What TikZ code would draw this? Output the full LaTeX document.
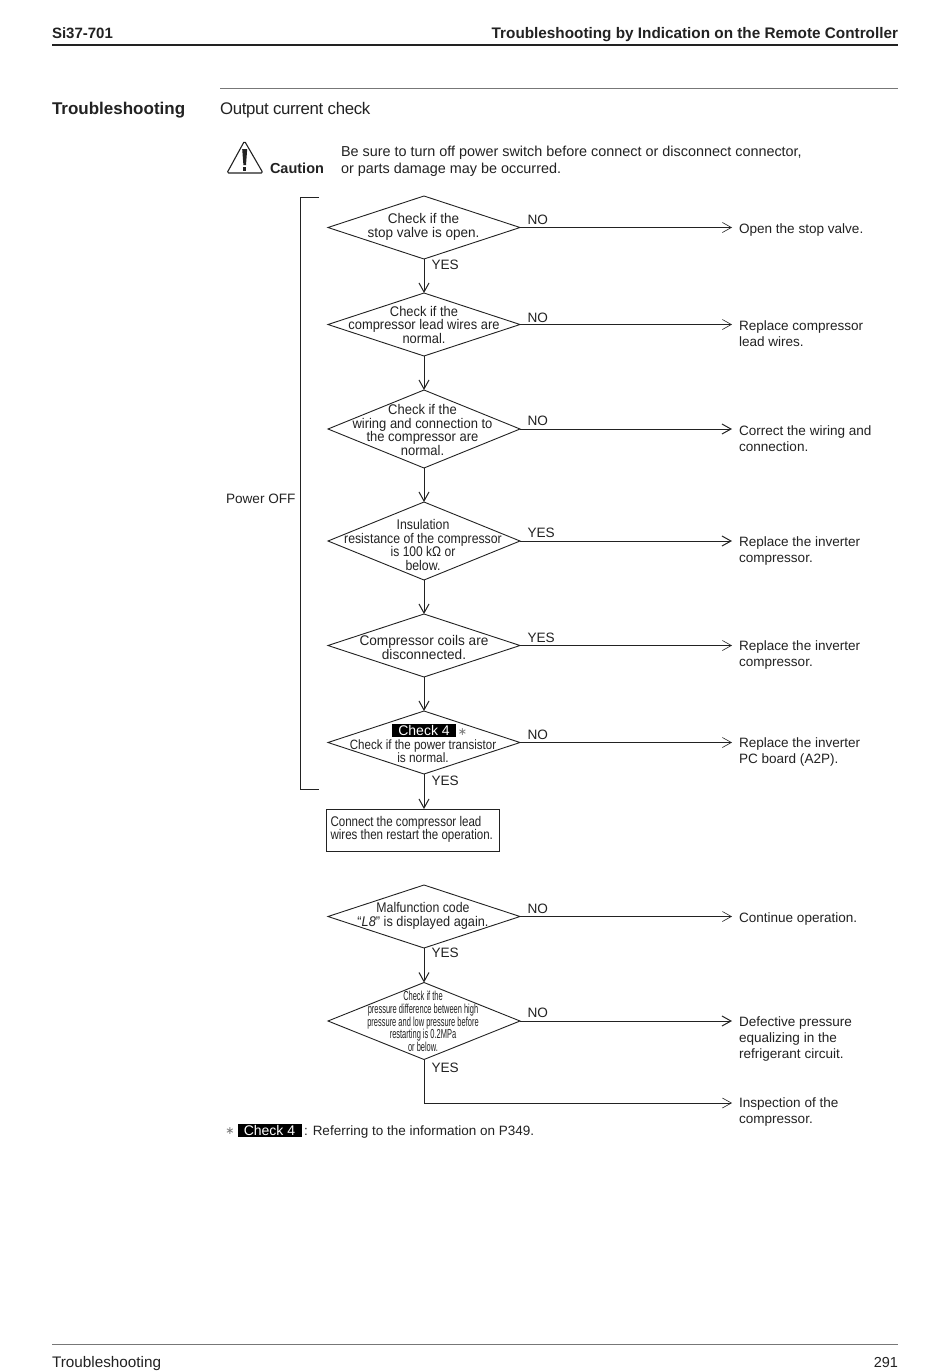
\documentclass[tikz,border=0pt]{standalone}
\usepackage{fontspec}
\usepackage{graphicx}
\setmainfont{Liberation Sans}
\newfontfamily\symfont{DejaVu Sans}
\usetikzlibrary{shapes.geometric,arrows.meta}
\definecolor{ink}{HTML}{222222}
\definecolor{rulegray}{HTML}{777777}
\newcommand{\fsz}[1]{\fontsize{#1}{#1}\selectfont}
\newcommand{\fszl}[2]{\fontsize{#1}{#2}\selectfont}
\newcommand{\hsq}[2]{\scalebox{#1}[1]{#2}}
\tikzset{
  x=1pt,y=-1pt,
  every node/.style={text=ink,inner sep=0pt,outer sep=0pt},
  dec/.style={shape=diamond,draw=ink,line width=0.9pt,minimum width=192pt,inner sep=0pt},
  dectext/.style={align=center,font=\fszl{14}{13.7}},
  result/.style={anchor=base west,font=\fsz{13.55},align=left},
  yn/.style={anchor=base west,font=\fsz{13.6}},
  flowthin/.style={draw=ink,line width=0.6pt,-{Straight Barb[length=9pt,width=10pt]}},
  flowh/.style={draw=ink,line width=1pt,-{Straight Barb[length=9pt,width=10pt]}},
  flowdown/.style={draw=ink,line width=1pt,-{Straight Barb[length=9pt,width=10pt]}},
  checktag/.style={fill=black,text=white,font=\fsz{14},minimum width=64pt,minimum height=13pt,text height=10pt,text depth=0pt},
  astk/.style={font=\symfont\fsz{11},text=rulegray},
}
\begin{document}
\begin{tikzpicture}
\useasboundingbox (0,0) rectangle (950,1371);
\fill[white] (0,0) rectangle (950,1371);
% header
\node[anchor=base west,font=\fsz{15}\bfseries] (hl) at (52,38) {Si37-701};
\node[anchor=base east,font=\fsz{15.3}\bfseries] (hr) at (898,38) {Troubleshooting by Indication on the Remote Controller};
\draw[ink,line width=1.2pt] (52,45) -- (898,45);
\draw[rulegray,line width=0.8pt] (220,88.5) -- (898,88.5);
\node[anchor=base west,font=\fsz{17}\bfseries] (ts) at (52,114) {Troubleshooting};
\node[anchor=base west,font=\fsz{16.8}] (oc) at (220,114) {\addfontfeature{LetterSpace=-2}Output current check};
% caution
\draw[ink,line width=1.1pt,line join=round,rounded corners=1.5pt] (244.5,141) -- (263,173) -- (227,173) -- cycle;
\fill[ink] (242.2,149) -- (247.2,149) -- (246,165) -- (243.4,165) -- cycle;
\fill[ink] (242.6,167) rectangle (246.4,171);
\node[anchor=base west,font=\fsz{14.5}\bfseries] (cau) at (270,173.5) {Caution};
\node[anchor=base west,align=left,font=\fszl{14.4}{16.8}] (cautext) at (341,173.5) {Be sure to turn off power switch before connect or disconnect connector,\\or parts damage may be occurred.};
% bracket
\draw[ink,line width=0.8pt] (319,197) -- (300.5,197) -- (300.5,789) -- (319,789);
\node[anchor=base west,font=\fsz{13.6}] (pw) at (226,503) {Power OFF};
% diamonds
\node[dec,minimum height=63pt] (d1) at (424,227.5) {};
\node[dec,minimum height=63pt] (d2) at (424,324.5) {};
\node[dec,minimum height=78pt] (d3) at (424,429) {};
\node[dec,minimum height=78pt] (d4) at (424,541) {};
\node[dec,minimum height=63pt] (d5) at (424,645.5) {};
\node[dec,minimum height=63pt] (d6) at (424,742.5) {};
\node[dec,minimum height=63pt] (d7) at (424,916.5) {};
\node[dec,minimum height=77pt] (d8) at (424,1021) {};
\node[draw=ink,line width=1pt,minimum width=173pt,minimum height=42pt] (bx) at (412.5,830) {};
% diamond texts
\node[dectext,anchor=base] (t1) at (423.5,237) {\hsq{.965}{Check if the}\\\hsq{.965}{stop valve is open.}};
\node[dectext,anchor=base] (t2) at (424,343.5) {\hsq{.92}{Check if the}\\\hsq{.92}{compressor lead wires are}\\\hsq{.92}{normal.}};
\node[dectext,anchor=base] (t3) at (422.5,455.5) {\hsq{.927}{Check if the}\\\hsq{.927}{wiring and connection to}\\\hsq{.927}{the compressor are}\\\hsq{.927}{normal.}};
\node[dectext,anchor=base] (t4) at (423,570.5) {\hsq{.88}{Insulation}\\\hsq{.877}{resistance of the compressor}\\\hsq{.86}{is 100 kΩ or}\\\hsq{.88}{below.}};
\node[dectext,anchor=base,font=\fszl{14}{14}] (t5) at (424,659.5) {\hsq{.975}{Compressor coils are}\\\hsq{.975}{disconnected.}};
\node[checktag] (ck1) at (424,730.5) {Check 4};
\node[astk] (as1) at (462.5,732) {∗};
\node[dectext,anchor=base,font=\fszl{13.5}{13.5}] (t6) at (423,762.5) {\hsq{.855}{Check if the power transistor}\\\hsq{.88}{is normal.}};
\node[dectext,anchor=base,font=\fszl{14}{14}] (t7) at (423,926) {\hsq{.88}{Malfunction code}\\\hsq{.91}{“\textit{L8}” is displayed again.}};
\node[dectext,anchor=base,font=\fszl{13}{12.7}] (t8) at (423,1051.5) {\hsq{.575}{Check if the}\\\hsq{.575}{pressure difference between high}\\\hsq{.575}{pressure and low pressure before}\\\hsq{.575}{restarting is 0.2MPa}\\\hsq{.575}{or below.}};
\node[anchor=base west,align=left,font=\fszl{14}{13.5}] (bt) at (330.5,839.5) {\hsq{.825}{Connect the compressor lead}\\\hsq{.825}{wires then restart the operation.}};
% results
\node[result] (r1) at (739,233) {Open the stop valve.};
\node[result] (r2) at (739,330) {Replace compressor};
\node[result] (r2b) at (739,346) {lead wires.};
\node[result] (r3) at (739,435) {Correct the wiring and};
\node[result] (r3b) at (739,451.5) {connection.};
\node[result] (r4) at (739,546) {Replace the inverter};
\node[result] (r4b) at (739,562.5) {compressor.};
\node[result] (r5) at (739,650) {Replace the inverter};
\node[result] (r5b) at (739,666) {compressor.};
\node[result] (r6) at (739,747) {Replace the inverter};
\node[result] (r6b) at (739,763) {PC board (A2P).};
\node[result] (r7) at (739,922) {Continue operation.};
\node[result] (r8) at (739,1026) {Defective pressure};
\node[result] (r8b) at (739,1042.5) {equalizing in the};
\node[result] (r8c) at (739,1058.5) {refrigerant circuit.};
\node[result] (r9) at (739,1107) {Inspection of the};
\node[result] (r9b) at (739,1123) {compressor.};
% arrow end coordinates
\coordinate (e1) at (732,227.5);
\coordinate (e2) at (732,324.5);
\coordinate (e3) at (732,429);
\coordinate (e4) at (732,541);
\coordinate (e5) at (732,645.5);
\coordinate (e6) at (732,742.5);
\coordinate (e7) at (732,916.5);
\coordinate (e8) at (732,1021);
\coordinate (e9) at (732,1103);
\coordinate (bend) at (424,1103);
\coordinate (bxin) at (424,809);
% horizontal connectors
\draw[flowthin] (d1.east) -- (e1);
\draw[flowthin] (d2.east) -- (e2);
\draw[flowh] (d3.east) -- (e3);
\draw[flowh] (d4.east) -- (e4);
\draw[flowthin] (d5.east) -- (e5);
\draw[flowthin] (d6.east) -- (e6);
\draw[flowthin] (d7.east) -- (e7);
\draw[flowh] (d8.east) -- (e8);
% vertical connectors
\draw[flowdown] (d1.south) -- (d2.north);
\draw[flowdown] (d2.south) -- (d3.north);
\draw[flowdown] (d3.south) -- (d4.north);
\draw[flowdown] (d4.south) -- (d5.north);
\draw[flowdown] (d5.south) -- (d6.north);
\draw[flowdown] (d6.south) -- (bxin);
\draw[flowdown] (d7.south) -- (d8.north);
\draw[flowthin] (d8.south) -- (bend) -- (e9);
% labels
\node[yn] (n1) at (527.5,224.5) {NO};
\node[yn] (y1) at (431.5,269) {YES};
\node[yn] (n2) at (527.5,322) {NO};
\node[yn] (n3) at (527.5,425.5) {NO};
\node[yn] (y4) at (527.5,537.5) {YES};
\node[yn] (y5) at (527.5,642.5) {YES};
\node[yn] (n6) at (527.5,739.5) {NO};
\node[yn] (y6) at (431.5,785.5) {YES};
\node[yn] (n7) at (527.5,913.5) {NO};
\node[yn] (y7) at (431.5,957.5) {YES};
\node[yn] (n8) at (527.5,1017.5) {NO};
\node[yn] (y8) at (431.5,1072.5) {YES};
% footnote
\node[astk] (as2) at (230,1131) {∗};
\node[checktag] (ck2) at (269.5,1130.5) {Check 4};
\node[anchor=base west,font=\fsz{13.5}] (fn) at (304,1135.5) {: Referring to the information on P349.};
% footer
\draw[rulegray,line width=0.8pt] (52,1344.5) -- (898,1344.5);
\node[anchor=base west,font=\fsz{15.3}] (fl) at (52,1367.5) {Troubleshooting};
\node[anchor=base east,font=\fsz{14.5}] (fr) at (898,1367) {291};
\end{tikzpicture}
\end{document}
